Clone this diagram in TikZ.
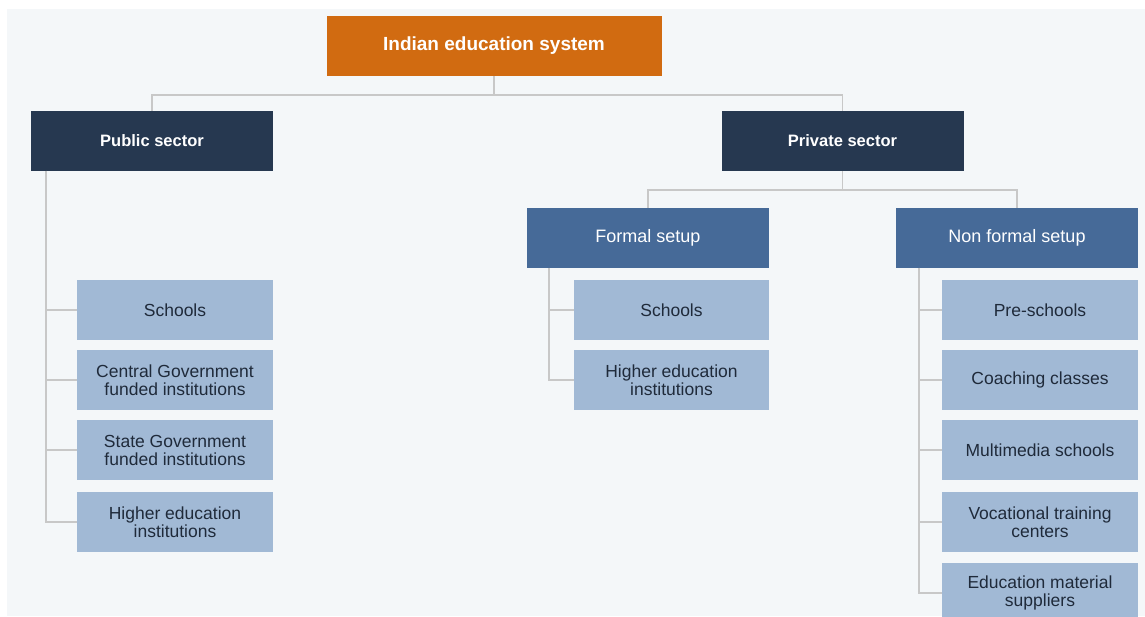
\documentclass[tikz,border=0pt]{standalone}
\usepackage{fontspec}
\setmainfont{Liberation Sans}
\definecolor{bgc}{HTML}{F4F7F9}
\definecolor{orangec}{HTML}{D16B11}
\definecolor{navyc}{HTML}{263850}
\definecolor{midc}{HTML}{466A98}
\definecolor{lightc}{HTML}{A1B9D5}
\definecolor{linec}{HTML}{C8C8C8}
\definecolor{txtc}{HTML}{1F2A3A}
\begin{document}
\begin{tikzpicture}[x=1pt,y=-1pt,
  boxbase/.style={rectangle, inner sep=2pt, minimum height=60pt, align=center},
  topbox/.style={boxbase, fill=orangec, text=white, minimum width=335pt, font=\fontsize{19}{21}\selectfont\bfseries},
  secbox/.style={boxbase, fill=navyc, text=white, minimum width=242pt, font=\fontsize{16.5}{18}\selectfont\bfseries},
  setbox/.style={boxbase, fill=midc, text=white, minimum width=242pt, font=\fontsize{18}{19}\selectfont},
  leafbox/.style={boxbase, fill=lightc, text=txtc, minimum width=196pt, font=\fontsize{17.5}{18}\selectfont},
  conn/.style={draw=linec, line width=1.6pt}]
\useasboundingbox (0,0) rectangle (1145,617);
\fill[white] (0,0) rectangle (1145,617);
\fill[bgc] (7,9) rectangle (1145,616);

\node[topbox] (top) at (494,46) {Indian education system};
\node[secbox] (pub) at (152,141) {Public sector};
\node[secbox] (priv) at (842.5,141) {Private sector};
\node[setbox] (formal) at (648,238) {Formal setup};
\node[setbox] (nonformal) at (1017,238) {Non formal setup};

\node[leafbox] (p1) at (175,310) {Schools};
\node[leafbox] (p2) at (175,380) {Central Government\\funded institutions};
\node[leafbox] (p3) at (175,450) {State Government\\funded institutions};
\node[leafbox] (p4) at (175,522) {Higher education\\institutions};

\node[leafbox, minimum width=195pt] (f1) at (671.5,310) {Schools};
\node[leafbox, minimum width=195pt] (f2) at (671.5,380) {Higher education\\institutions};

\node[leafbox] (n1) at (1040,310) {Pre-schools};
\node[leafbox] (n2) at (1040,380) {Coaching classes};
\node[leafbox] (n3) at (1040,450) {Multimedia schools};
\node[leafbox] (n4) at (1040,522) {Vocational training\\centers};
\node[leafbox] (n5) at (1040,593) {Education material\\suppliers};

\coordinate (j1) at (494,95);
\coordinate (j2) at (842.5,190);
\coordinate (pv) at (46,171);
\coordinate (fv) at (549,268);
\coordinate (nv) at (919,268);

\draw[conn] (top.south) -- (j1);
\draw[conn] (pub.north) |- (j1) -| (priv.north);
\draw[conn] (priv.south) -- (j2);
\draw[conn] (formal.north) |- (j2) -| (nonformal.north);
\foreach \c in {p1,p2,p3,p4} \draw[conn] (pv) |- (\c.west);
\foreach \c in {f1,f2} \draw[conn] (fv) |- (\c.west);
\foreach \c in {n1,n2,n3,n4,n5} \draw[conn] (nv) |- (\c.west);
\end{tikzpicture}
\end{document}
